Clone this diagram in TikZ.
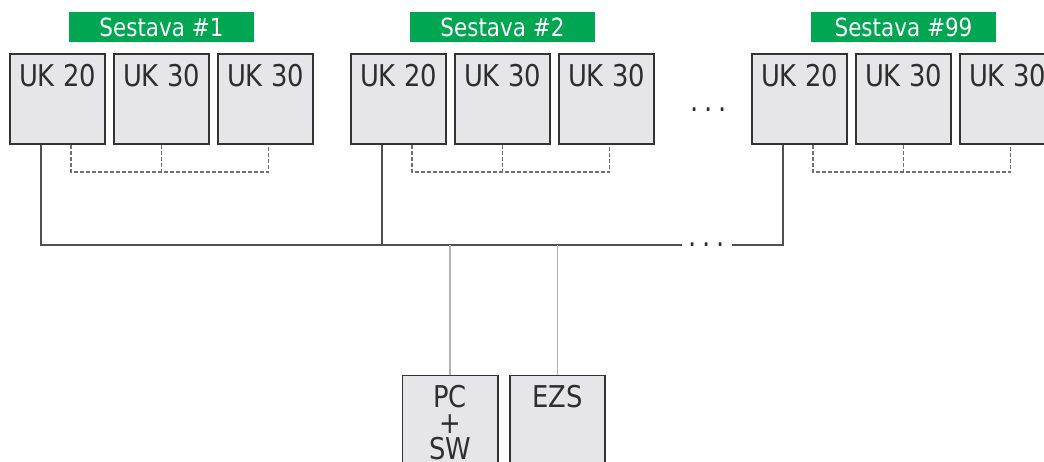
\documentclass[tikz,border=0pt]{standalone}
\usepackage{fontspec}
\setmainfont{DejaVu Sans}[FakeStretch=0.86]
\definecolor{boxfill}{HTML}{E6E6E8}
\definecolor{boxline}{HTML}{333333}
\definecolor{tagfill}{HTML}{00A651}
\definecolor{wirec}{HTML}{505050}
\definecolor{feedc}{HTML}{B4B4B4}
\definecolor{linkc}{HTML}{707070}
\definecolor{txt}{HTML}{2E2E2E}

\begin{document}
\begin{tikzpicture}[
    x=1pt, y=-1pt,
    unit/.style={rectangle, draw=boxline, line width=1.6pt, fill=boxfill, minimum width=95.4pt, minimum height=90.4pt, inner sep=0pt,
        label={[anchor=north, yshift=-11pt, inner sep=0pt, align=center, text=txt, font=\fontsize{30}{26}\selectfont]north:#1}},
    tag/.style={rectangle, fill=tagfill, text=white, minimum width=185pt, minimum height=30pt, inner sep=0pt, font=\fontsize{25}{25}\selectfont},
    wire/.style={draw=wirec, line width=1.1pt},
    feed/.style={draw=feedc, line width=1.1pt},
    link/.style={draw=linkc, line width=1.2pt, dash pattern=on 4pt off 2pt},
    dots/.style={inner sep=0pt, text=txt, font=\fontsize{30}{30}\selectfont}
]
\useasboundingbox (0,0) rectangle (1044,461);

% Sestava #1
\node[tag] (T1) at (161.5,27) {Sestava \#1};
\node[unit=UK 20] (A1) at (57.5,99) {};
\node[unit=UK 30] (A2) at (161.5,99) {};
\node[unit=UK 30] (A3) at (265.5,99) {};

% Sestava #2
\node[tag] (T2) at (502.5,27) {Sestava \#2};
\node[unit=UK 20] (B1) at (398.5,99) {};
\node[unit=UK 30] (B2) at (502.5,99) {};
\node[unit=UK 30] (B3) at (606.5,99) {};

% Sestava #99
\node[tag] (T3) at (903.5,27) {Sestava \#99};
\node[unit=UK 20] (C1) at (799.5,99) {};
\node[unit=UK 30] (C2) at (903.5,99) {};
\node[unit=UK 30] (C3) at (1007.5,99) {};

\node[dots] (D1) at (709,110) {.\hspace{5.8pt}.\hspace{5.8pt}.};

% bus
\coordinate (BusL) at (682,245);
\coordinate (BusR) at (732,245);
\node[dots] (D2) at (707,245) {.\hspace{5.8pt}.\hspace{5.8pt}.};

\draw[wire] ([xshift=-16.5pt]A1.south) |- (BusL);
\draw[wire] ([xshift=-16.5pt]B1.south) -- ([xshift=-16.5pt]B1.south |- BusL);
\draw[wire] ([xshift=-16.5pt]C1.south) |- (BusR);

% internal links
\draw[link] ([xshift=13.5pt]A1.south) -- ++(0,27) -| ([xshift=3pt]A3.south);
\draw[link] (A2.south) -- ++(0,27);
\draw[link] ([xshift=13.5pt]B1.south) -- ++(0,27) -| ([xshift=3pt]B3.south);
\draw[link] (B2.south) -- ++(0,27);
\draw[link] ([xshift=13.5pt]C1.south) -- ++(0,27) -| ([xshift=3pt]C3.south);
\draw[link] (C2.south) -- ++(0,27);

% PC and EZS
\node[unit={PC\\+\\SW}] (PC) at (450,420.5) {};
\node[unit=EZS] (EZS) at (557.5,420.5) {};

\draw[feed] (PC.north) -- (PC.north |- BusL);
\draw[feed] (EZS.north) -- (EZS.north |- BusL);
\end{tikzpicture}
\end{document}
